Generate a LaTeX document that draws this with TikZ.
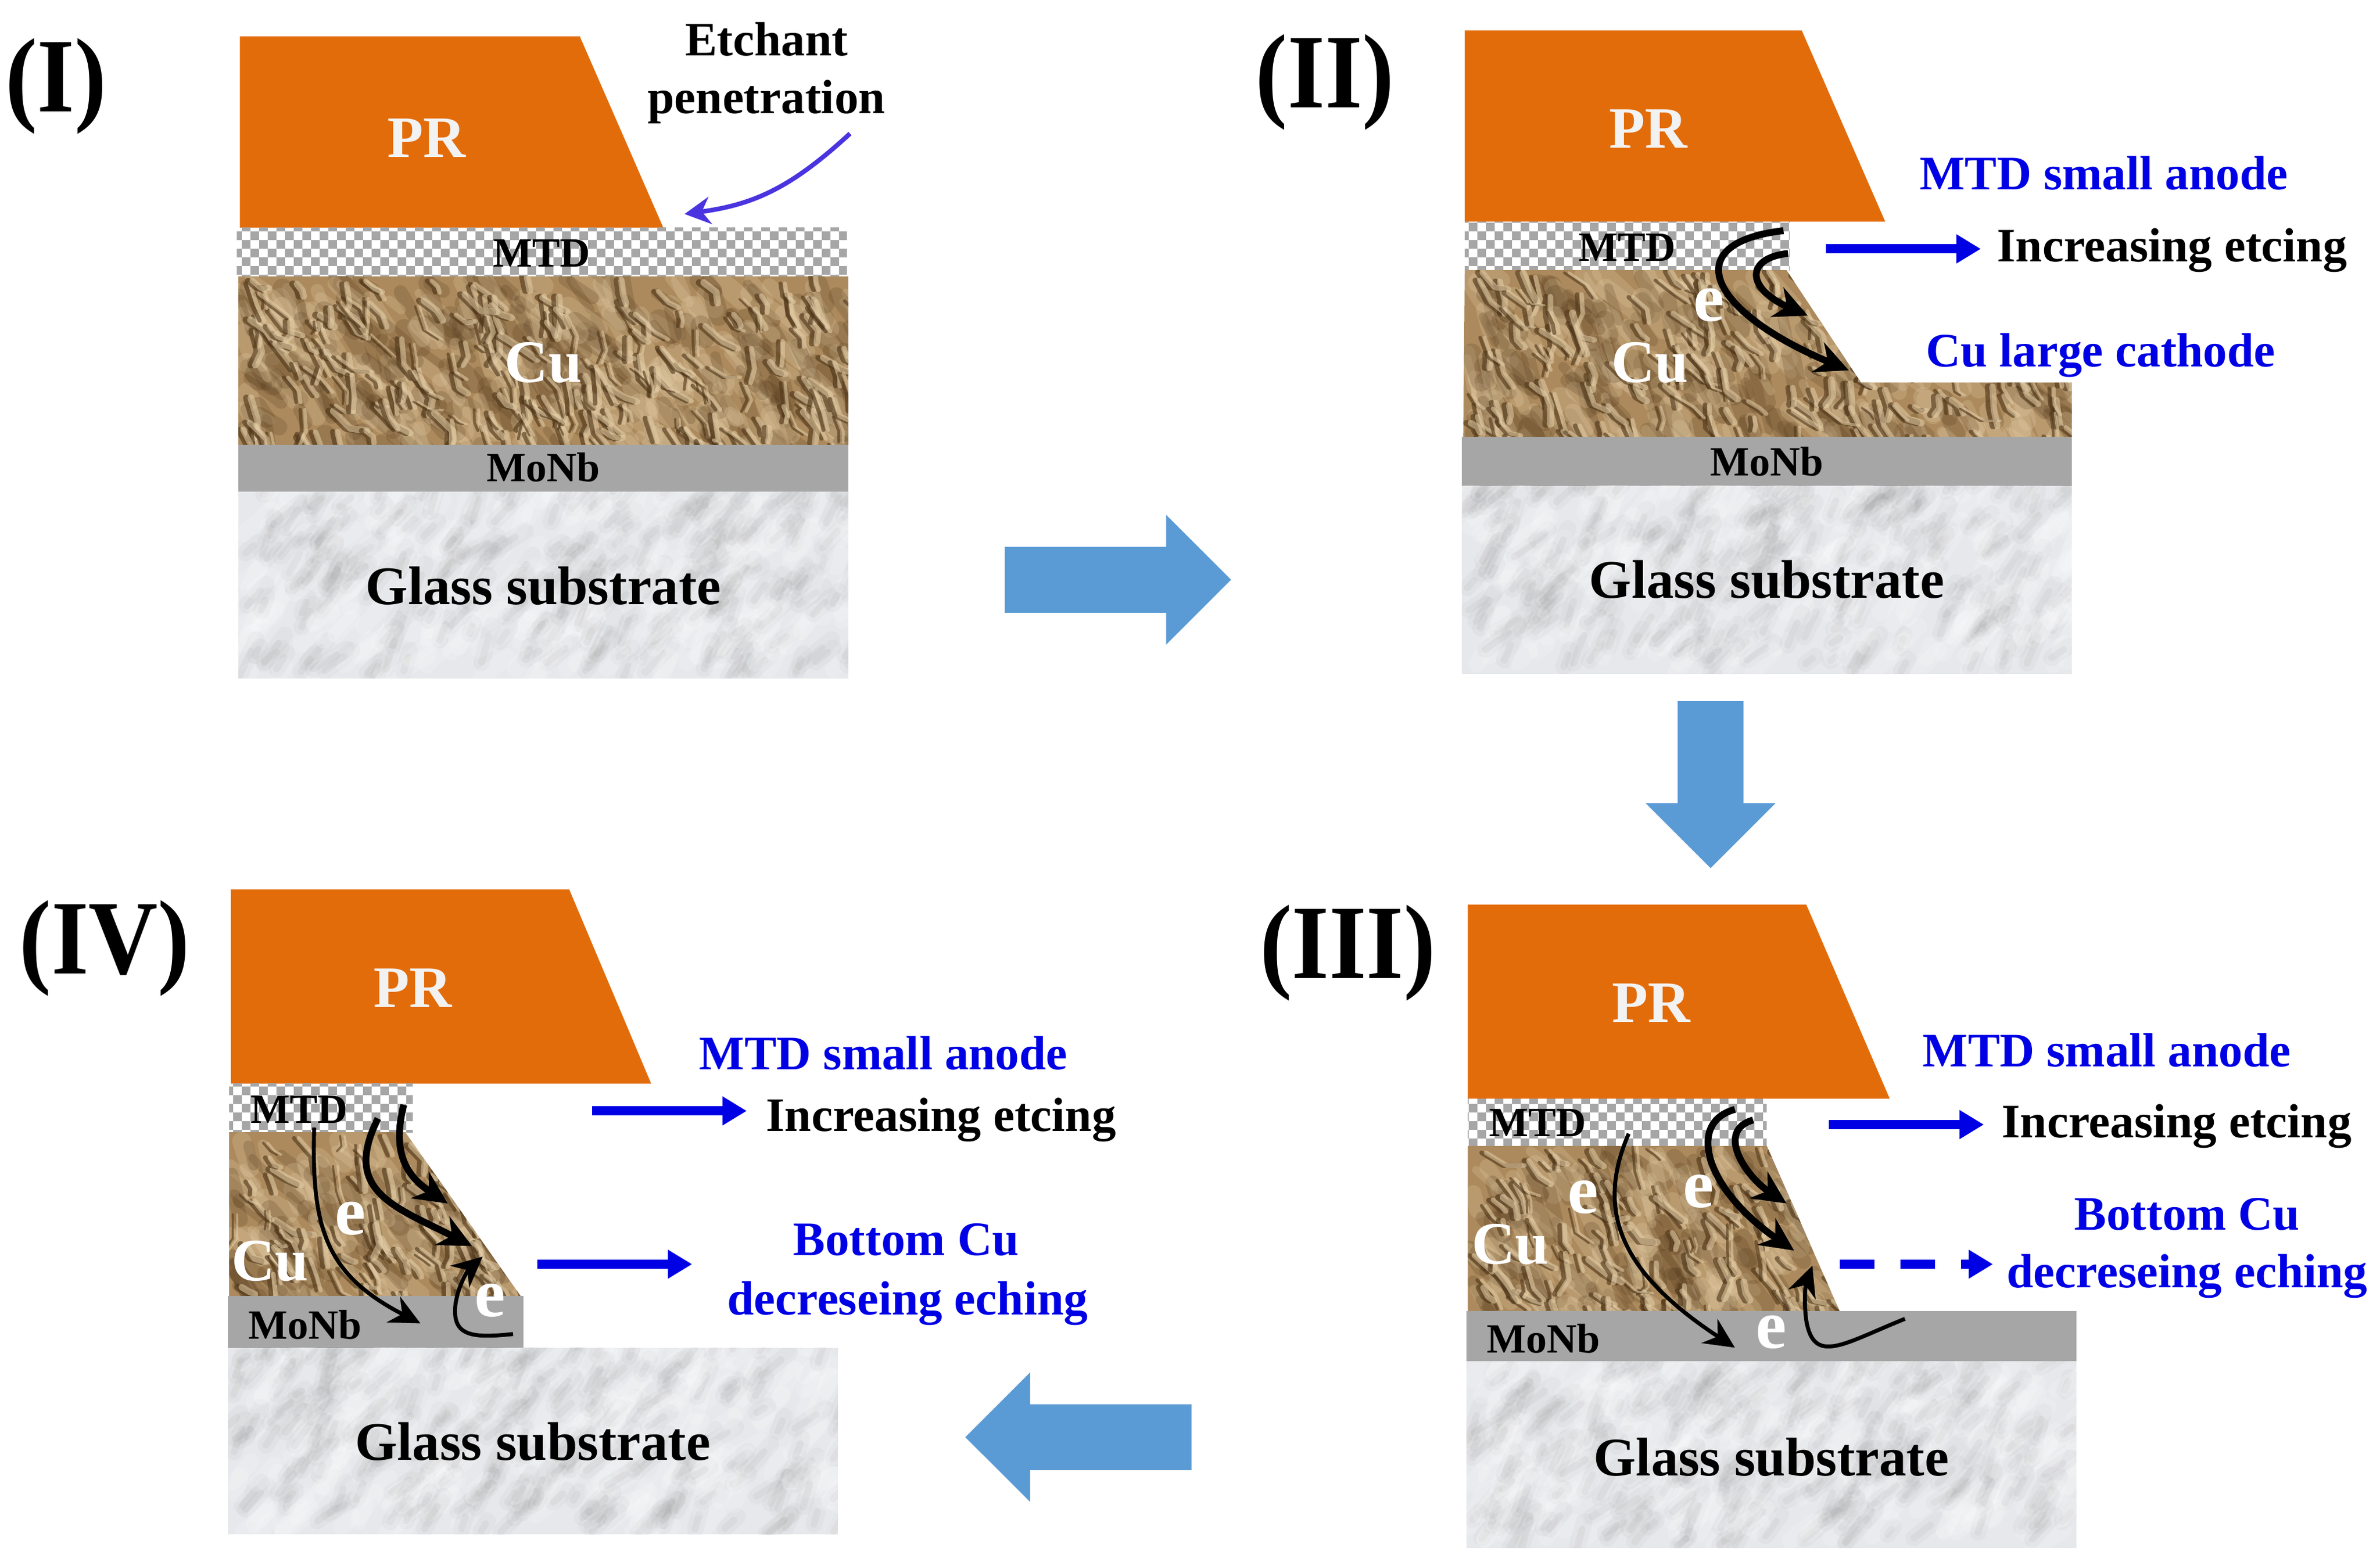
\documentclass[tikz,border=0pt]{standalone}
\usepackage{fontspec}
\setmainfont{Liberation Serif}
\usetikzlibrary{arrows.meta,patterns,shapes.arrows}

\definecolor{prorange}{HTML}{E36C0A}
\definecolor{monbgray}{HTML}{A6A6A6}
\definecolor{flowblue}{HTML}{5B9BD5}
\definecolor{cubase}{HTML}{AC8A5D}
\definecolor{cudark}{HTML}{4E3518}
\definecolor{culight}{HTML}{E3CDA6}
\definecolor{glassbase}{HTML}{E7E8EB}
\definecolor{etchviolet}{HTML}{4A34E0}

\pgfdeclarepatternformonly{mtdchecks}{\pgfpointorigin}{\pgfqpoint{3.24pt}{3.24pt}}{\pgfqpoint{3.24pt}{3.24pt}}{
  \pgfpathrectangle{\pgfpointorigin}{\pgfqpoint{1.62pt}{1.62pt}}
  \pgfpathrectangle{\pgfqpoint{1.62pt}{1.62pt}}{\pgfqpoint{1.62pt}{1.62pt}}
  \pgfusepath{fill}
}

% crumpled copper: #1 clip path, #2 x, #3 y, #4 width, #5 height, #6 strokes, #7 seed
\newcommand{\cufill}[7]{
  \begin{scope}
    \clip #1;
    \fill[cubase] (#2,#3) rectangle ++(#4,#5);
    \pgfmathsetseed{#7}
    \foreach \k in {1,...,#6}{
      \pgfmathsetmacro\px{#2+rnd*#4}
      \pgfmathsetmacro\py{#3+rnd*#5}
      \pgfmathsetmacro\qx{#2+rnd*#4}
      \pgfmathsetmacro\qy{#3+rnd*#5}
      \pgfmathsetmacro\ang{30+rnd*50}
      \pgfmathsetmacro\len{8+rnd*18}
      \pgfmathsetmacro\wid{0.5+rnd*0.9}
      \draw[culight,opacity=.25,line width=\wid mm,line cap=round] (\px,\py) -- ++(\ang:\len);
      \draw[cudark,opacity=.2,line width=\wid mm,line cap=round] (\qx,\qy) -- ++(\ang:\len);
    }
    \foreach \k in {1,...,#6}{
      \pgfmathsetmacro\px{#2+rnd*#4}
      \pgfmathsetmacro\py{#3+rnd*#5}
      \pgfmathsetmacro\ang{30+rnd*60}
      \pgfmathsetmacro\len{5+rnd*12}
      \pgfmathsetmacro\turn{\ang-50+rnd*100}
      \pgfmathsetmacro\wid{0.12+rnd*0.35}
      \draw[cudark,opacity=.6,line width=\wid mm,line join=round,line cap=round] (\px,\py) -- ++(\ang:\len) -- ++(\turn:\len*.7);
      \draw[culight,opacity=.55,line width=\wid mm,line join=round,line cap=round] (\px+3,\py) -- ++(\ang:\len) -- ++(\turn:\len*.7);
    }
  \end{scope}
}
% marble glass: #1 x, #2 y, #3 width, #4 height, #5 strokes, #6 seed
\newcommand{\glassfill}[6]{
  \begin{scope}
    \clip (#1,#2) rectangle ++(#3,#4);
    \fill[glassbase] (#1,#2) rectangle ++(#3,#4);
    \pgfmathsetseed{#6}
    \foreach \k in {1,...,#5}{
      \pgfmathsetmacro\px{#1+rnd*#3}
      \pgfmathsetmacro\py{#2+rnd*#4}
      \pgfmathsetmacro\qx{#1+rnd*#3}
      \pgfmathsetmacro\qy{#2+rnd*#4}
      \pgfmathsetmacro\ang{-30-rnd*45}
      \pgfmathsetmacro\len{6+rnd*22}
      \draw[black!50,opacity=.05,line width=1.1mm,line cap=round] (\px,\py) -- ++(\ang:\len);
      \draw[black!55,opacity=.07,line width=.45mm,line cap=round] (\px,\py) -- ++(\ang:\len*.7);
      \draw[white,opacity=.16,line width=1.1mm,line cap=round] (\qx,\qy) -- ++(\ang:\len);
    }
  \end{scope}
}

\tikzset{
  prlayer/.style={fill=prorange},
  mtdlayer/.style={fill=white,postaction={pattern=mtdchecks,pattern color=monbgray}},
  monblayer/.style={fill=monbgray},
  tag/.style={font=\bfseries\fontsize{9}{10}\selectfont,inner sep=0pt,text=black},
  bluetag/.style={tag,text=blue!90!black},
  steplabel/.style={tag,font=\bfseries\fontsize{18}{20}\selectfont,yscale=1.1},
  prtag/.style={tag,font=\bfseries\fontsize{11}{12}\selectfont,text=white!95!black},
  cutag/.style={tag,font=\bfseries\fontsize{11.3}{12}\selectfont,text=white},
  etag/.style={tag,font=\bfseries\fontsize{13}{14}\selectfont,text=white},
  thintag/.style={tag,font=\bfseries\fontsize{7.8}{9}\selectfont},
  glasstag/.style={tag,font=\bfseries\fontsize{10.2}{12}\selectfont},
  flowarrow/.style={single arrow,fill=flowblue,draw=none,inner sep=2.1mm,
    single arrow head extend=2.1mm,minimum height=14.9mm,anchor=tip},
  sideflow/.style={blue!90!black,line width=.6mm,-{Triangle[length=1.6mm,width=1.8mm]}},
  electronA/.style={black,line width=.45mm,-{Stealth[length=2.2mm,width=2.1mm]}},
  electronB/.style={black,line width=.26mm,-{Stealth[length=2mm,width=1.9mm]}},
}

\begin{document}
\begin{tikzpicture}[x=0.1mm,y=-0.1mm]
\useasboundingbox (0,0) rectangle (1568,1029);

% panel I
\fill[prlayer] (158,24) -- (382,24) -- (437,150) -- (158,150) -- cycle;
\fill[mtdlayer] (156,150) rectangle (558,182);
\cufill{(157,182) rectangle (559,293)}{157}{182}{402}{111}{230}{11}
\fill[monblayer] (157,293) rectangle (559,324);
\glassfill{157}{324}{402}{123}{230}{21}
\node[steplabel] (stepi) at (37,57) {(I)};
\node[prtag] (pri) at (281,91) {PR};
\node[thintag] (mtdi) at (357,167) {MTD};
\node[cutag] (cui) at (358,239) {Cu};
\node[thintag] (monbi) at (358,308) {MoNb};
\node[glasstag] (glassi) at (358,386) {Glass substrate};
\node[tag] (etchanti) at (505,26) {Etchant};
\node[tag] (penetri) at (505,67) {penetration};
\coordinate (etchstart) at (560,88);
\coordinate (etchend) at (451,141);
\draw[etchviolet,line width=.3mm,-{Stealth[length=1.7mm,width=1.8mm]}] (etchstart) .. controls (520,125) and (495,135) .. (etchend);

% panel II
\fill[prlayer] (965,20) -- (1187,20) -- (1242,146) -- (965,146) -- cycle;
\fill[mtdlayer] (965,146) rectangle (1179,178);
\cufill{(965,178) -- (1177,178) -- (1226,252) -- (1365,252) -- (1365,288) -- (964,288) -- cycle}{964}{178}{401}{110}{200}{12}
\fill[monblayer] (963,288) rectangle (1365,320);
\glassfill{963}{320}{402}{124}{230}{22}
\node[steplabel] (stepii) at (873,54) {(II)};
\node[prtag] (prii) at (1086,85) {PR};
\node[thintag] (mtdii) at (1072,163) {MTD};
\node[etag] (eii) at (1126,201) {e};
\node[cutag] (cuii) at (1087,239) {Cu};
\node[thintag] (monbii) at (1164,304) {MoNb};
\node[glasstag] (glassii) at (1164,382) {Glass substrate};
\node[bluetag] (anodeii) at (1386,114) {MTD small anode};
\node[tag] (incii) at (1431,165) {Increasing etcing};
\node[bluetag] (cathii) at (1384,234) {Cu large cathode};
\coordinate (flowiis) at (1203,164);
\coordinate (flowiie) at (1305,164);
\draw[sideflow] (flowiis) -- (flowiie);
\coordinate (aiis) at (1175,152);
\coordinate (aiie) at (1218,244);
\coordinate (biis) at (1178,167);
\coordinate (biie) at (1191,208);
\draw[electronA] (aiis) .. controls (1105,160) and (1125,205) .. (aiie);
\draw[electronA] (biis) .. controls (1150,170) and (1150,190) .. (biie);

% panel III
\fill[prlayer] (967,596) -- (1190,596) -- (1245,724) -- (967,724) -- cycle;
\fill[mtdlayer] (967,724) rectangle (1164,755);
\cufill{(967,755) -- (1164,755) -- (1212,864) -- (967,864) -- cycle}{967}{755}{245}{109}{130}{13}
\fill[monblayer] (966,864) rectangle (1368,897);
\glassfill{966}{897}{402}{123}{230}{23}
\node[steplabel] (stepiii) at (888,628) {(III)};
\node[prtag] (priii) at (1088,661) {PR};
\node[thintag] (mtdiii) at (1013,740) {MTD};
\node[cutag] (cuiii) at (995,820) {Cu};
\node[etag] (eiiia) at (1043,789) {e};
\node[etag] (eiiib) at (1119,785) {e};
\node[etag] (eiiic) at (1167,878) {e};
\node[thintag] (monbiii) at (1017,882) {MoNb};
\node[glasstag] (glassiii) at (1167,960) {Glass substrate};
\node[bluetag] (anodeiii) at (1388,692) {MTD small anode};
\node[tag] (inciii) at (1434,742) {Increasing etcing};
\node[bluetag] (bottomiii) at (1441,800) {Bottom Cu};
\node[bluetag] (decriii) at (1441,841) {decreseing eching};
\coordinate (flowiiis) at (1205,741);
\coordinate (flowiiie) at (1307,741);
\draw[sideflow] (flowiiis) -- (flowiiie);
\coordinate (dashiiis) at (1212,833);
\coordinate (dashiiie) at (1313,833);
\draw[sideflow,dash pattern=on 2.3mm off 1.7mm] (dashiiis) -- (dashiiie);
\coordinate (aiiis) at (1143,731);
\coordinate (aiiie) at (1182,824);
\coordinate (biiis) at (1155,738);
\coordinate (biiie) at (1177,793);
\coordinate (ciiis) at (1073,747);
\coordinate (ciiie) at (1143,888);
\coordinate (diiis) at (1255,869);
\coordinate (diiie) at (1194,834);
\draw[electronA] (aiiis) .. controls (1110,740) and (1125,785) .. (aiiie);
\draw[electronA] (biiis) .. controls (1130,745) and (1150,775) .. (biiie);
\draw[electronB] (ciiis) .. controls (1050,800) and (1070,840) .. (ciiie);
\draw[electronB] (diiis) .. controls (1215,885) and (1195,900) .. (1190,870) .. controls (1188,855) and (1190,845) .. (diiie);

% panel IV
\fill[prlayer] (152,586) -- (375,586) -- (429,714) -- (152,714) -- cycle;
\fill[mtdlayer] (151,714) rectangle (272,746);
\cufill{(151,746) -- (267,746) -- (343,854) -- (151,854) -- cycle}{151}{746}{192}{108}{100}{14}
\fill[monblayer] (150,854) rectangle (345,888);
\glassfill{150}{888}{402}{123}{230}{24}
\node[steplabel] (stepiv) at (69,625) {(IV)};
\node[prtag] (priv) at (272,651) {PR};
\node[thintag] (mtdiv) at (197,731) {MTD};
\node[cutag] (cuiv) at (178,831) {Cu};
\node[etag] (eiva) at (231,803) {e};
\node[etag] (eivb) at (323,857) {e};
\node[thintag] (monbiv) at (201,873) {MoNb};
\node[glasstag] (glassiv) at (351,950) {Glass substrate};
\node[bluetag] (anodeiv) at (582,694) {MTD small anode};
\node[tag] (inciv) at (620,738) {Increasing etcing};
\node[bluetag] (bottomiv) at (597,817) {Bottom Cu};
\node[bluetag] (decriv) at (598,859) {decreseing eching};
\coordinate (flowivs) at (390,732);
\coordinate (flowive) at (492,732);
\draw[sideflow] (flowivs) -- (flowive);
\coordinate (dashivs) at (354,833);
\coordinate (dashive) at (456,833);
\draw[sideflow] (dashivs) -- (dashive);
\coordinate (aivs) at (249,737);
\coordinate (aive) at (311,821);
\coordinate (bivs) at (266,728);
\coordinate (bive) at (295,793);
\coordinate (civs) at (207,743);
\coordinate (cive) at (277,872);
\coordinate (divs) at (338,879);
\coordinate (dive) at (318,828);
\draw[electronA] (aivs) .. controls (225,785) and (260,795) .. (aive);
\draw[electronA] (bivs) .. controls (258,760) and (268,775) .. (bive);
\draw[electronB] (civs) .. controls (205,810) and (215,840) .. (cive);
\draw[electronB] (divs) .. controls (310,882) and (298,880) .. (300,860) .. controls (302,845) and (310,835) .. (dive);

% flow between the panels
\node[flowarrow] (flowright) at (812,382) {};
\node[flowarrow,shape border rotate=270,minimum height=11mm] (flowdown) at (1127,573) {};
\node[flowarrow,shape border rotate=180] (flowleft) at (635,947) {};
\end{tikzpicture}
\end{document}
